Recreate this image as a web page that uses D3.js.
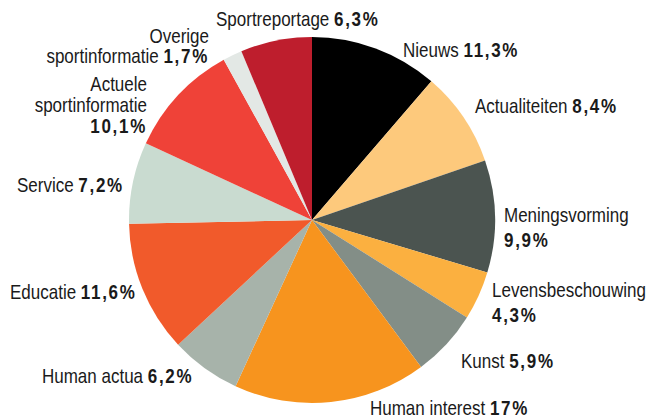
<!DOCTYPE html>
<meta charset="utf-8">
<head>
<style>
  body { margin:0; background:#fff; }
  text { font-family:"Liberation Sans",Arial,sans-serif; font-size:20px; fill:#1a1a1a; }
  .pct { font-weight:bold; letter-spacing:2px; }
</style>
</head>
<script src="https://d3js.org/d3.v7.min.js"></script>
<div id="my_dataviz"></div>
<script>

// data
var categories = ["Nieuws", "Actualiteiten", "Meningsvorming", "Levensbeschouwing", "Kunst",
  "Human interest", "Human actua", "Educatie", "Service", "Actuele\nsportinformatie",
  "Overige\nsportinformatie", "Sportreportage"];
var values = [11.3, 8.4, 9.9, 4.3, 5.9, 17, 6.2, 11.6, 7.2, 10.1, 1.7, 6.3];
var colors = ["#000000", "#fdc97c", "#4b5450", "#fbb040", "#838e87",
  "#f7941e", "#a7b3aa", "#f15a2b", "#c9dbd0", "#ef4238", "#e3e8e5", "#be1e2d"];

// label placement: x, first baseline, anchor, line height, percent on own line
var labelLayout = [
  [403, 57, "start", 22, false],
  [475, 113, "start", 22, false],
  [504, 222, "start", 25, true],
  [492, 297, "start", 25, true],
  [461, 368, "start", 22, false],
  [370, 415, "start", 22, false],
  [42, 383, "start", 22, false],
  [10, 299, "start", 22, false],
  [17, 192, "start", 22, false],
  [147, 91, "end", 21, true],
  [209, 43, "end", 20, false],
  [216, 26, "start", 22, false]
];

var width = 647, height = 418, cx = 312, cy = 220, radius = 183;
var narrow = 0.85; // squeeze to mimic a condensed face

var nl = d3.formatLocale({decimal: ",", thousands: ".", grouping: [3], currency: ["€", ""]});
var fmt = nl.format(".1~f");

var svg = d3.select("#my_dataviz")
  .append("svg")
    .attr("width", width)
    .attr("height", height);

var data = categories.map(function(c, i) { return {name: c, value: values[i], color: colors[i], layout: labelLayout[i]}; });

var pie = d3.pie().sort(null).value(function(d) { return d.value; });
var arc = d3.arc().innerRadius(0).outerRadius(radius);

var g = svg.append("g").attr("transform", "translate(" + cx + "," + cy + ")");

g.selectAll("path")
  .data(pie(data))
  .enter()
  .append("path")
    .attr("d", arc)
    .attr("fill", function(d) { return d.data.color; });

// labels
data.forEach(function(d) {
  var L = d.layout;
  var parts = d.name.split("\n");
  var pct = fmt(d.value) + "%";
  var t = svg.append("g")
      .attr("transform", "translate(" + L[0] + "," + L[1] + ") scale(" + narrow + ",1)")
    .append("text")
      .attr("text-anchor", L[2]);
  parts.forEach(function(p, j) {
    var last = j == parts.length - 1;
    var ts = t.append("tspan").attr("x", 0).attr("dy", j == 0 ? 0 : L[3]).text(p);
    if (last && !L[4]) {
      ts.text(p + " ");
      t.append("tspan").attr("class", "pct").text(pct);
    }
  });
  if (L[4]) {
    t.append("tspan").attr("class", "pct").attr("x", 0).attr("dy", L[3]).text(pct);
  }
});

</script>
